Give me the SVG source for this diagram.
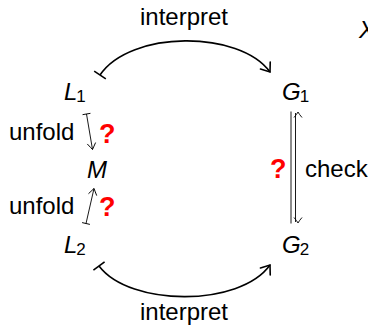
<svg xmlns="http://www.w3.org/2000/svg" width="368" height="330" viewBox="0 0 368 330">
<style>
text{font-family:"Liberation Sans","DejaVu Sans",sans-serif;fill:#000}
.lbl{font-size:24px}
.m{font-size:24px;font-style:italic}
.sub{font-size:17px;font-style:normal}
.q{font-size:27px;font-weight:bold;fill:#f00}
.thick{fill:none;stroke:#000;stroke-width:1.6}
.thin{fill:none;stroke:#000;stroke-width:0.9}
</style>
<defs>
<marker id="arr" markerUnits="userSpaceOnUse" orient="auto" markerWidth="20" markerHeight="20" refX="0" refY="0" viewBox="-10 -10 20 20" overflow="visible">
<path d="M-8,-6 Q-2,-1.5 0,0 Q-2,1.5 -8,6" fill="none" stroke="#000" stroke-width="1.6" stroke-linecap="round"/>
</marker>
<marker id="tee" markerUnits="userSpaceOnUse" orient="auto" markerWidth="20" markerHeight="20" refX="0" refY="0" viewBox="-10 -10 20 20" overflow="visible">
<path d="M0,-7 L0,7" fill="none" stroke="#000" stroke-width="1.6"/>
</marker>
<marker id="arrs" markerUnits="userSpaceOnUse" orient="auto" markerWidth="20" markerHeight="20" refX="0" refY="0" viewBox="-10 -10 20 20" overflow="visible">
<path d="M-6,-4 Q-1.5,-1 0,0 Q-1.5,1 -6,4" fill="none" stroke="#000" stroke-width="0.9" stroke-linecap="round"/>
</marker>
<marker id="tees" markerUnits="userSpaceOnUse" orient="auto" markerWidth="20" markerHeight="20" refX="0" refY="0" viewBox="-10 -10 20 20" overflow="visible">
<path d="M0,-4 L0,4" fill="none" stroke="#000" stroke-width="0.9"/>
</marker>
</defs>
<g id="node-L1"><text class="m" x="64" y="100">L<tspan class="sub" dx="-1" dy="2">1</tspan></text></g>
<g id="node-G1"><text class="m" x="282" y="100">G<tspan class="sub" dx="-1" dy="2">1</tspan></text></g>
<g id="node-M"><text class="m" x="87" y="178">M</text></g>
<g id="node-L2"><text class="m" x="64" y="253">L<tspan class="sub" dx="-1" dy="2">2</tspan></text></g>
<g id="node-G2"><text class="m" x="282" y="253">G<tspan class="sub" dx="-1" dy="2">2</tspan></text></g>
<g id="connectors">
<path class="thick" d="M100,75 C130,30 240,30 270,72" marker-start="url(#tee)" marker-end="url(#arr)"/>
<path class="thick" d="M99,266 C130,307 240,307 270,265" marker-start="url(#tee)" marker-end="url(#arr)"/>
<path class="thin" d="M86.5,114 L92.5,149.5" marker-start="url(#tees)" marker-end="url(#arrs)"/>
<path class="thin" d="M86,223.5 L94,188.5" marker-start="url(#tees)" marker-end="url(#arrs)"/>
<g id="check-arrow">
<path class="thin" d="M291,111.5 L291,223.5"/>
<path class="thin" d="M295.5,113 L295.5,222"/>
<path class="thin" d="M294,117.5 Q297,114 298,112 Q299,114 302,117.5"/>
<path class="thin" d="M294,217.5 Q297,221 298,223 Q299,221 302,217.5"/>
</g>
</g>
<g id="labels">
<text class="lbl" x="184" y="25" text-anchor="middle">interpret</text>
<text class="lbl" x="184" y="320" text-anchor="middle">interpret</text>
<text class="lbl" x="9" y="140">unfold</text>
<text class="lbl" x="9" y="214">unfold</text>
<text class="lbl" x="305" y="177">check</text>
<text class="q" x="99" y="143">?</text>
<text class="q" x="99" y="216">?</text>
<text class="q" x="270" y="178">?</text>
<text class="m" x="359" y="38">X</text>
</g>
</svg>
